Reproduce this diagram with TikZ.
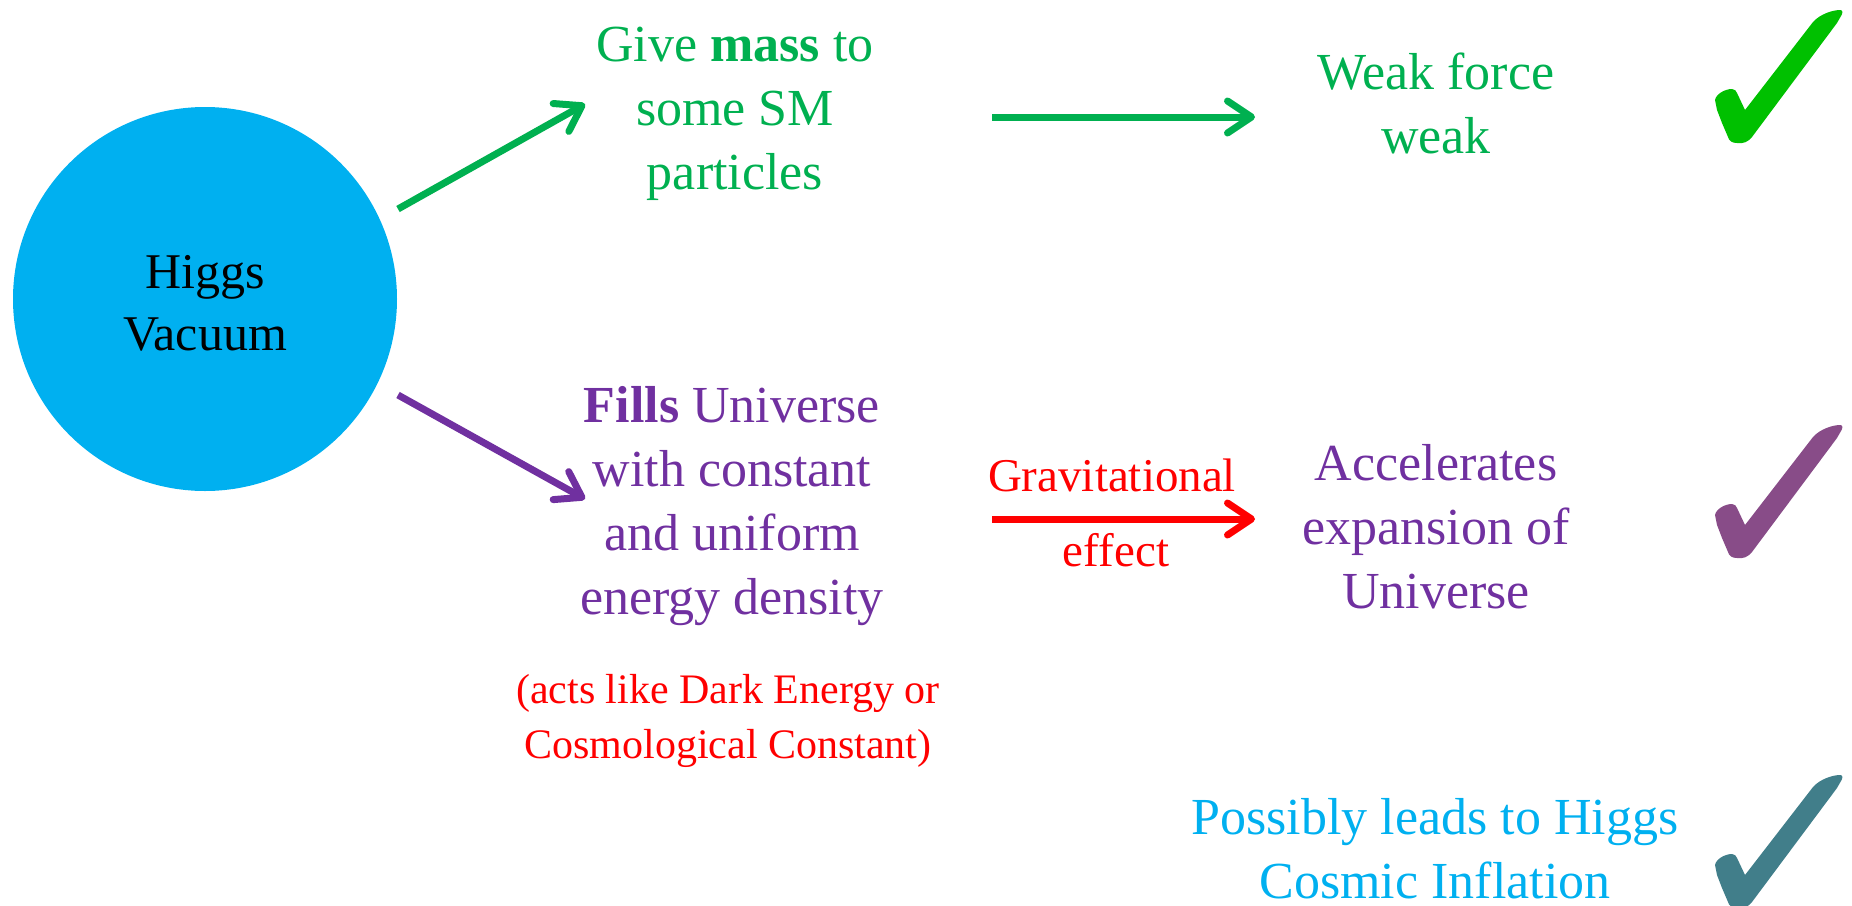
\documentclass[tikz,border=0pt]{standalone}
\usepackage{fontspec}
\setmainfont{Liberation Serif}
\usetikzlibrary{arrows.meta}
\definecolor{pgreen}{HTML}{00B050}
\definecolor{ppurple}{HTML}{7030A0}
\definecolor{pred}{HTML}{FF0000}
\definecolor{pcyan}{HTML}{00B0F0}
\definecolor{chkgreen}{HTML}{00C000}
\definecolor{chkpurple}{HTML}{884C88}
\definecolor{chkteal}{HTML}{417E8A}
\begin{document}
\begin{tikzpicture}[x=1pt,y=-1pt,
  txt/.style={align=center, inner sep=0pt, font=\fontsize{52}{64}\selectfont},
  smalltxt/.style={align=center, inner sep=0pt, font=\fontsize{42}{55}\selectfont},
  labtxt/.style={align=center, inner sep=0pt, font=\fontsize{47}{56}\selectfont},
  arr/.style={line width=7pt, -{Straight Barb[length=24pt,width=32pt,round]}},
  chk/.pic={\fill (0,90) .. controls (1,84) and (10,79) .. (17,79)
      .. controls (20,79) and (21,81) .. (22,83) -- (30,100) -- (98,12)
      .. controls (105,4) and (118,0) .. (125,0)
      .. controls (128,0) and (128,3) .. (126,6) -- (122,13) -- (37,127)
      .. controls (33,132) and (28,134) .. (22,133)
      .. controls (17,133) and (14,131) .. (13,127) -- (7,113) -- (2,100) -- cycle;}
]
\useasboundingbox (0,0) rectangle (1852,905);

\node[circle, fill=pcyan, minimum size=384pt, inner sep=0pt] (higgs) at (205,299) {};
\node[align=center, inner sep=0pt, font=\fontsize{50}{62}\selectfont]
  (higgstxt) at ([yshift=-8pt]higgs.center) {\strut Higgs\\\strut Vacuum};

\node[txt, text=pgreen] (mass) at (735,113)
  {\strut Give \textbf{mass} to\\\strut some SM\\\strut particles};
\node[txt, text=pgreen] (weak) at (1436,109)
  {\strut Weak force\\\strut weak};

\node[txt, text=ppurple] (fills) at (732,506)
  {\strut\textbf{Fills} Universe\\\strut with constant\\\strut and uniform\\\strut energy density};
\node[smalltxt, text=pred] (note) at (728,720)
  {\strut(acts like Dark Energy or\\\strut Cosmological Constant)};
\node[txt, text=ppurple] (accel) at (1436,532)
  {\strut Accelerates\\\strut expansion of\\\strut Universe};
\node[labtxt, text=pred] (grav) at (1112,480) {\strut Gravitational};
\node[labtxt, text=pred] (effect) at (1116,555) {\strut effect};

\node[txt, text=pcyan] (infl) at (1435,854)
  {\strut Possibly leads to Higgs\\\strut Cosmic Inflation};

\coordinate (g1s) at (398,209);
\coordinate (g1e) at (585,104);
\coordinate (g2s) at (992,117);
\coordinate (g2e) at (1255,117);
\coordinate (p1s) at (398,395);
\coordinate (p1e) at (585,499);
\coordinate (r1s) at (992,519);
\coordinate (r1e) at (1255,519);

\draw[arr, pgreen] (g1s) -- (g1e);
\draw[arr, pgreen] (g2s) -- (g2e);
\draw[arr, ppurple] (p1s) -- (p1e);
\draw[arr, pred] (r1s) -- (r1e);

\pic[fill=chkgreen] at (1715,10) {chk};
\pic[fill=chkpurple] at (1715,425) {chk};
\pic[fill=chkteal] at (1715,775) {chk};
\end{tikzpicture}
\end{document}
